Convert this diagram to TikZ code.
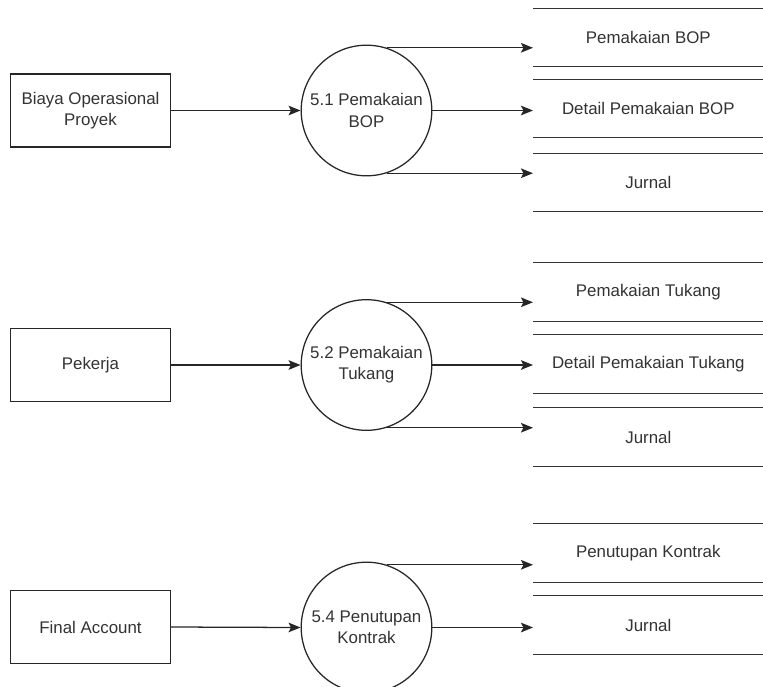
\documentclass[tikz,border=0pt]{standalone}
\usepackage{fontspec}
\setmainfont{Liberation Sans}
\usetikzlibrary{arrows.meta}

\begin{document}
\begin{tikzpicture}[x=0.025cm, y=-0.025cm,
        every node/.style={font=\fontsize{12}{15}\selectfont, text=black!80},
        entity/.style={draw=black!85, line width=0.9pt, minimum width=4cm, minimum height=1.825cm, align=center, inner sep=0pt},
        process/.style={draw=black!85, line width=0.9pt, circle, minimum size=3.265cm, align=center, inner sep=0pt},
        store/.style={minimum width=5.75cm, minimum height=1.45cm, anchor=west, inner sep=0pt},
        storeline/.style={draw=black!80, line width=0.9pt},
        flow/.style={draw=black!85, line width=0.9pt, -{Stealth[length=0.3cm, width=0.24cm, inset=0.06cm]}}]

        \useasboundingbox (0,0) rectangle (763,686);  % page size of the reference

        % 5.1 Pemakaian BOP
        \node[entity] (b1) at (90.5,110.5) {Biaya Operasional\\Proyek};
        \node[process] (p1) at (366.5,110.5) {5.1 Pemakaian\\BOP};
        \node[store] (s11) at (533,37.5) {Pemakaian BOP};
        \node[store] (s12) at (533,108.5) {Detail Pemakaian BOP};
        \node[store] (s13) at (533,182.5) {Jurnal};

        % 5.2 Pemakaian Tukang
        \node[entity] (b2) at (90.5,365) {Pekerja};
        \node[process] (p2) at (366.5,365) {5.2 Pemakaian\\Tukang};
        \node[store] (s21) at (533,292) {Pemakaian Tukang};
        \node[store] (s22) at (533,364) {Detail Pemakaian Tukang};
        \node[store] (s23) at (533,437) {Jurnal};

        % 5.4 Penutupan Kontrak
        \node[entity] (b3) at (90.5,627) {Final Account};
        \node[process] (p3) at (366.5,627.5) {5.4 Penutupan\\Kontrak};
        \node[store] (s31) at (533,553) {Penutupan Kontrak};
        \node[store] (s32) at (533,625) {Jurnal};

        % data store lines (top and bottom only)
        \foreach \s in {s11,s12,s13,s21,s22,s23,s31,s32}
            \draw[storeline] (\s.north west) -- (\s.north east) (\s.south west) -- (\s.south east);

        % flows
        \draw[flow] (b1.east) -- (p1.west);
        \draw[flow] (p1.72) -- (p1.72 -| s11.west);
        \draw[flow] (p1.east) -- (p1.east -| s12.west);
        \draw[flow] (p1.-72) -- (p1.-72 -| s13.west);

        \draw[flow] (b2.east) -- (p2.west);
        \draw[flow] (p2.72) -- (p2.72 -| s21.west);
        \draw[flow] (p2.east) -- (p2.east -| s22.west);
        \draw[flow] (p2.-72) -- (p2.-72 -| s23.west);

        \draw[flow] (b3.east) -- (p3.west);
        \draw[flow] (p3.72) -- (p3.72 -| s31.west);
        \draw[flow] (p3.east) -- (p3.east -| s32.west);

\end{tikzpicture}
\end{document}
